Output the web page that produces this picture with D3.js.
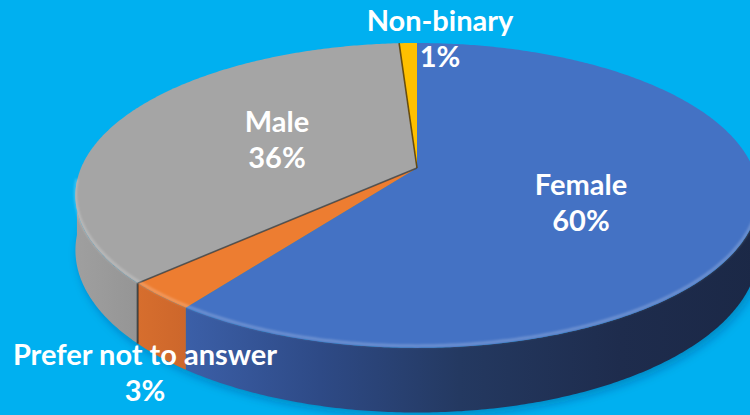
<!DOCTYPE html>
<html>
<head>
<meta charset="utf-8">
<script src="https://cdn.jsdelivr.net/npm/d3@7"></script>
<style>
  html, body { margin: 0; padding: 0; background: #00B0F0; }
  svg { display: block; }
</style>
</head>
<body>
<div id="chart"></div>
<script>
'use strict';

// data
var categories = ['Female', 'Prefer not to answer', 'Male', 'Non-binary'];
var shares = [60, 3, 36, 1];

var pie3d = {};

// canvas
pie3d.w = 750;
pie3d.h = 415;

// projection of the disc (simple perspective)
pie3d.cx = 417;       // apex x
pie3d.cy = 168;       // apex y
pie3d.kx = 336;       // horizontal radius
pie3d.ky = 147.5;     // vertical radius
pie3d.persp = 0.18;   // perspective strength
pie3d.depth = 53;     // thickness of the disc

// colours: top face and side gradient stops
pie3d.topColors = ['#4472C4', '#ED7D31', '#A5A5A5', '#FFC000'];
pie3d.sideStops = [
    [[180, '#3C60A9'], [320, '#2E4A86'], [460, '#243961'], [620, '#1E2C4D'], [760, '#1B2846']],
    [[130, '#D86F2E'], [210, '#C8632A']],
    [[70, '#A0A0A0'], [150, '#939393']],
    [[380, '#C99700'], [420, '#B88A00']]
];

// label anchors (centre x, first baseline)
pie3d.labelPos = {
    'Female': [581, 195],
    'Prefer not to answer': [145, 365],
    'Male': [277, 132],
    'Non-binary': [440, 31]
};
pie3d.lineGap = 36;

pie3d.project = function(theta, r, down)
{
    var X = r * Math.sin(theta);
    var Z = -r * Math.cos(theta);
    var w = 1 - pie3d.persp * Z;
    return [pie3d.cx + pie3d.kx * X / w,
            pie3d.cy + (pie3d.ky * Z + (down ? pie3d.depth : 0)) / w];
}

pie3d.arcPoints = function(a0, a1, down)
{
    var n = Math.max(2, Math.ceil(Math.abs(a1 - a0) / 0.01));
    return d3.range(n + 1).map(function(i) {
        return pie3d.project(a0 + (a1 - a0) * i / n, 1, down);
    });
}

pie3d.run = function()
{
    var line = d3.line();
    var arcs = d3.pie().sort(null).value(function(d) { return d; })(shares);
    var fmt = function(v) { return d3.format('.0f')(v / d3.sum(shares) * 100) + '%'; };

    var svg = d3.select('#chart').append('svg')
        .attr('width', pie3d.w)
        .attr('height', pie3d.h);

    var defs = svg.append('defs');
    defs.append('filter').attr('id', 'blur4').attr('x', '-20%').attr('y', '-20%')
        .attr('width', '140%').attr('height', '140%')
        .append('feGaussianBlur').attr('stdDeviation', 5);
    defs.append('filter').attr('id', 'blur1')
        .append('feGaussianBlur').attr('stdDeviation', 1.3);

    pie3d.sideStops.forEach(function(stops, i) {
        var g = defs.append('linearGradient')
            .attr('id', 'side' + i)
            .attr('gradientUnits', 'userSpaceOnUse')
            .attr('x1', stops[0][0]).attr('x2', stops[stops.length - 1][0])
            .attr('y1', 0).attr('y2', 0);
        stops.forEach(function(s) {
            g.append('stop')
                .attr('offset', (s[0] - stops[0][0]) / (stops[stops.length - 1][0] - stops[0][0]))
                .attr('stop-color', s[1]);
        });
    });

    // soft shadow under the disc
    svg.append('path')
        .attr('d', line(pie3d.arcPoints(0, 2 * Math.PI, true)) + 'Z')
        .attr('transform', 'translate(3,4)')
        .attr('fill', 'rgba(0,40,80,0.28)')
        .attr('filter', 'url(#blur4)');

    // sides (only the front part can be seen)
    var lo = 95 * Math.PI / 180, hi = 265 * Math.PI / 180;
    arcs.forEach(function(d, i) {
        var a0 = Math.max(d.startAngle, lo), a1 = Math.min(d.endAngle, hi);
        if (a1 <= a0) return;
        var top = pie3d.arcPoints(a0, a1, false);
        var bottom = pie3d.arcPoints(a0, a1, true).reverse();
        svg.append('path')
            .attr('d', line(top.concat(bottom)) + 'Z')
            .attr('fill', 'url(#side' + i + ')');
    });

    // darker seam on the side at the grey slice edge
    [arcs[2].startAngle].forEach(function(a) {
        svg.append('path')
            .attr('d', line([pie3d.project(a, 1, false), pie3d.project(a, 1, true)]))
            .attr('stroke', 'rgba(40,40,40,0.7)')
            .attr('stroke-width', 2);
    });

    // top faces
    arcs.forEach(function(d, i) {
        var pts = [pie3d.project(0, 0, false)].concat(pie3d.arcPoints(d.startAngle, d.endAngle, false));
        svg.append('path')
            .attr('d', line(pts) + 'Z')
            .attr('fill', pie3d.topColors[i]);
    });

    // seams between slices on top
    [[arcs[2].startAngle, 'rgba(60,60,60,0.75)'], [arcs[3].startAngle, 'rgba(90,60,0,0.85)']].forEach(function(s) {
        svg.append('path')
            .attr('d', line([pie3d.project(0, 0, false), pie3d.project(s[0], 1, false)]))
            .attr('stroke', s[1])
            .attr('stroke-width', 1.6);
    });

    // bevel highlight along the front rim
    svg.append('path')
        .attr('d', line(pie3d.arcPoints(lo, hi, false)))
        .attr('fill', 'none')
        .attr('stroke', 'rgba(255,255,255,0.22)')
        .attr('stroke-width', 3)
        .attr('transform', 'translate(0,-2)')
        .attr('filter', 'url(#blur1)');

    // labels
    arcs.forEach(function(d, i) {
        var p = pie3d.labelPos[categories[i]];
        var t = svg.append('text')
            .attr('text-anchor', 'middle')
            .attr('fill', '#FFFFFF')
            .attr('font-family', 'Lato, "Open Sans", sans-serif')
            .attr('font-weight', 'bold')
            .attr('font-size', 29);
        t.append('tspan').attr('x', p[0]).attr('y', p[1]).text(categories[i]);
        t.append('tspan').attr('x', p[0]).attr('y', p[1] + pie3d.lineGap).text(fmt(d.data));
    });
}

window.onload = pie3d.run;
</script>
</body>
</html>
